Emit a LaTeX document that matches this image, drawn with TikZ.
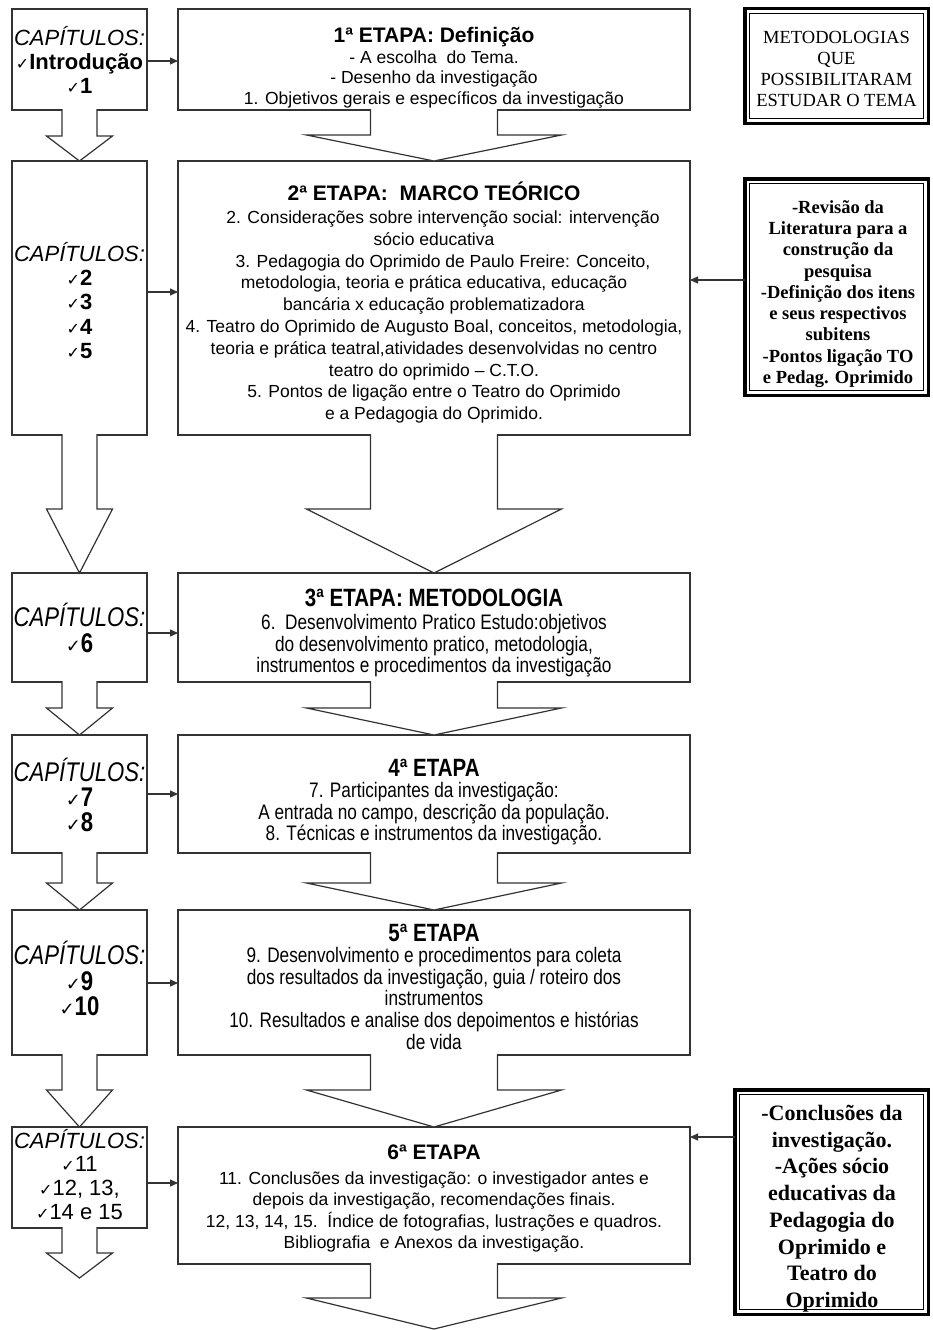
\documentclass[tikz,border=0pt]{standalone}
\usepackage{fontspec}
\setmainfont{Liberation Sans}
\newfontfamily\narrowsans[FakeStretch=0.82]{Liberation Sans}
\newfontfamily\serifface{Liberation Serif}
\newfontfamily\symface{DejaVu Sans}
\usetikzlibrary{arrows.meta,calc}
\definecolor{linecol}{gray}{0.2}

% helpers
\newcommand\fs[2]{\fontsize{#1pt}{#2pt}\selectfont}
\newcommand\topstrut{\rule{0pt}{26pt}}
\newcommand\ck[1][16]{{\symface\fontsize{#1pt}{#1pt}\selectfont ✓}}

% hollow block arrow hanging below a box: source, tip, shaft half width, head half width, head length
\newcommand\blockarrow[5]{%
  \path[blockarr] let \p1=(#1.south), \p2=(#2) in
    ({\x1-#3},{\y1+0.8pt}) -- ({\x1-#3},{\y2+#5}) -- ({\x2-#4},{\y2+#5})
    -- (\x2,\y2) -- ({\x2+#4},{\y2+#5}) -- ({\x1+#3},{\y2+#5}) -- ({\x1+#3},{\y1+0.8pt});
}

\tikzset{
  frame/.style={draw=linecol, line width=1.2pt, fill=white, inner sep=0pt, outer sep=0pt},
  chapbox/.style={frame, minimum width=135pt},
  stagebox/.style={frame, minimum width=512pt},
  notebox/.style={draw=black, line width=3.5pt, fill=white, inner sep=0pt, outer sep=0pt},
  innerline/.style={draw=black, line width=1.2pt},
  txt/.style={anchor=north, align=center, inner sep=0pt, text=black},
  link/.style={draw=linecol, line width=1.2pt, -{Triangle[length=8pt,width=7pt]}},
  blockarr/.style={fill=white, draw=linecol, line width=1.2pt, line join=miter},
  chapfont/.style={font=\fs{22}{24}},
  narrowchap/.style={font=\narrowsans\fs{27}{26}},
  narrowstage/.style={font=\narrowsans\fs{21}{21.5}}
}

\begin{document}
\begin{tikzpicture}[x=1pt,y=-1pt]
\fill[white] (0,0) rectangle (933,1330);
\useasboundingbox (0,0) rectangle (933,1330);

% chapter column
\node[chapbox, minimum height=101pt] (c1) at (79.5,59.5) {};
\node[chapbox, minimum height=274pt] (c2) at (79.5,298) {};
\node[chapbox, minimum height=109pt] (c3) at (79.5,627.5) {};
\node[chapbox, minimum height=118pt] (c4) at (79.5,794) {};
\node[chapbox, minimum height=145pt] (c5) at (79.5,982.5) {};
\node[chapbox, minimum height=101pt] (c6) at (79.5,1177.5) {};

% stage column
\node[stagebox, minimum height=101pt] (e1) at (434,59.5) {};
\node[stagebox, minimum height=274pt] (e2) at (434,298) {};
\node[stagebox, minimum height=109pt] (e3) at (434,627.5) {};
\node[stagebox, minimum height=118pt] (e4) at (434,794) {};
\node[stagebox, minimum height=145pt] (e5) at (434,982.5) {};
\node[stagebox, minimum height=137pt] (e6) at (434,1195.5) {};

% framed notes on the right
\node[notebox, minimum width=183.5pt, minimum height=114.5pt] (r1) at (836.5,66) {};
\node[notebox, minimum width=183.5pt, minimum height=216.5pt] (r2) at (836.5,287) {};
\node[notebox, minimum width=193.5pt, minimum height=224.5pt] (r3) at (831.5,1202) {};
\foreach \r in {r1,r2,r3}
  \draw[innerline] ($(\r.north west)+(5,5)$) rectangle ($(\r.south east)+(-5,-5)$);

% free ends of the last block arrows
\coordinate (c6end) at (79.5,1278);
\coordinate (e6end) at (434,1329);

% block arrows between the rows
\blockarrow{c1}{c2.north}{17.5pt}{33pt}{25pt}
\blockarrow{e1}{e2.north}{63.5pt}{127.5pt}{26pt}
\blockarrow{c2}{c3.north}{17.5pt}{33pt}{64pt}
\blockarrow{e2}{e3.north}{63.5pt}{127.5pt}{64pt}
\blockarrow{c3}{c4.north}{17.5pt}{33pt}{27pt}
\blockarrow{e3}{e4.north}{63.5pt}{127.5pt}{27pt}
\blockarrow{c4}{c5.north}{17.5pt}{33pt}{27pt}
\blockarrow{e4}{e5.north}{63.5pt}{127.5pt}{27pt}
\blockarrow{c5}{c6.north}{17.5pt}{33pt}{37pt}
\blockarrow{e5}{e6.north}{63.5pt}{127.5pt}{37pt}
\blockarrow{c6}{c6end}{17.5pt}{33pt}{25pt}
\blockarrow{e6}{e6end}{63.5pt}{127.5pt}{31pt}

% small connectors
\draw[link] (c1.east |- 0,61) -- (e1.west |- 0,61);
\draw[link] (c2.east |- 0,292) -- (e2.west |- 0,292);
\draw[link] (c3.east |- 0,633) -- (e3.west |- 0,633);
\draw[link] (c4.east |- 0,794) -- (e4.west |- 0,794);
\draw[link] (c5.east |- 0,983) -- (e5.west |- 0,983);
\draw[link] (c6.east |- 0,1183) -- (e6.west |- 0,1183);
\draw[link] (r2.west |- 0,280) -- (e2.east |- 0,280);
\draw[link] (r3.west |- 0,1137) -- (e6.east |- 0,1137);

% chapter texts
\node[txt, chapfont] (c1t) at (79.5,18.9)
  {\topstrut{\itshape CAPÍTULOS:}\\\ck{\bfseries Introdução}\\\ck{\bfseries 1}};
\node[txt, font=\fs{22}{24.3}] (c2t) at (79.5,234.9)
  {\topstrut{\itshape CAPÍTULOS:}\\\ck{\bfseries 2}\\\ck{\bfseries 3}\\\ck{\bfseries 4}\\\ck{\bfseries 5}};
\node[txt, narrowchap] (c3t) at (79.5,600.3)
  {\topstrut{\itshape CAPÍTULOS:}\\\ck[18]{\bfseries 6}};
\node[txt, font=\narrowsans\fs{27}{25}] (c4t) at (79.5,755.3)
  {\topstrut{\itshape CAPÍTULOS:}\\\ck[18]{\bfseries 7}\\\ck[18]{\bfseries 8}};
\node[txt, font=\narrowsans\fs{27}{25.5}] (c5t) at (79.5,938.3)
  {\topstrut{\itshape CAPÍTULOS:}\\\ck[18]{\bfseries 9}\\\ck[18]{\bfseries 10}};
\node[txt, font=\fs{22}{23.7}] (c6t) at (79.5,1121.9)
  {\topstrut{\itshape CAPÍTULOS:}\\\ck 11\\\ck 12, 13,\\\ck 14 e 15};

% stage texts
\node[txt, font=\fs{17.5}{20.5}] (e1t) at (434,16.5)
  {\topstrut{\fs{21}{21}\bfseries 1ª ETAPA: Definição}\\
   - A escolha\ \ do Tema.\\
   - Desenho da investigação\\
   1. Objetivos gerais e específicos da investigação};
\node[txt, font=\fs{17.5}{21.8}] (e2t) at (434,174.5)
  {\topstrut{\fs{21}{21}\bfseries 2ª ETAPA:\ \ MARCO TEÓRICO}\\[1pt]
   \hspace*{18pt}2. Considerações sobre intervenção social: intervenção\\
   sócio educativa\\
   \hspace*{18pt}3. Pedagogia do Oprimido de Paulo Freire: Conceito,\\
   metodologia, teoria e prática educativa, educação\\
   bancária x educação problematizadora\\
   4. Teatro do Oprimido de Augusto Boal, conceitos, metodologia,\\
   teoria e prática teatral,atividades desenvolvidas no centro\\
   teatro do oprimido – C.T.O.\\
   5. Pontos de ligação entre o Teatro do Oprimido\\
   e a Pedagogia do Oprimido.};
\node[txt, narrowstage] (e3t) at (434,580.6)
  {\topstrut{\fs{25}{25}\bfseries 3ª ETAPA: METODOLOGIA}\\[1.4pt]
   6.\ \ Desenvolvimento Pratico Estudo:objetivos\\
   do desenvolvimento pratico, metodologia,\\
   instrumentos e procedimentos da investigação};
\node[txt, narrowstage] (e4t) at (434,750.6)
  {\topstrut{\fs{25}{25}\bfseries 4ª ETAPA}\\[-0.6pt]
   7. Participantes da investigação:\\
   A entrada no campo, descrição da população.\\
   8. Técnicas e instrumentos da investigação.};
\node[txt, font=\narrowsans\fs{21}{21.6}] (e5t) at (434,915.6)
  {\topstrut{\fs{25}{25}\bfseries 5ª ETAPA}\\[-0.7pt]
   9. Desenvolvimento e procedimentos para coleta\\
   dos resultados da investigação, guia / roteiro dos\\
   instrumentos\\
   10. Resultados e analise dos depoimentos e histórias\\
   de vida};
\node[txt, font=\fs{17.5}{21.3}] (e6t) at (434,1133.5)
  {\topstrut{\fs{21}{21}\bfseries 6ª ETAPA}\\[3.5pt]
   11. Conclusões da investigação: o investigador antes e\\
   depois da investigação, recomendações finais.\\
   12, 13, 14, 15.\ \ Índice de fotografias, lustrações e quadros.\\
   Bibliografia\ \ e Anexos da investigação.};

% note texts
\node[txt, font=\serifface\fs{18.5}{21}] (r1t) at (836.5,17)
  {\topstrut METODOLOGIAS\\QUE\\POSSIBILITARAM\\ESTUDAR O TEMA};
\node[txt, font=\serifface\bfseries\fs{18.5}{21.25}] (r2t) at (838,187.2)
  {\topstrut -Revisão da\\Literatura para a\\construção da\\pesquisa\\
   -Definição dos itens\\e seus respectivos\\subitens\\
   -Pontos ligação TO\\e Pedag. Oprimido};
\node[txt, font=\serifface\bfseries\fs{22}{26.7}] (r3t) at (832,1094.3)
  {\topstrut -Conclusões da\\investigação.\\-Ações sócio\\educativas da\\
   Pedagogia do\\Oprimido e\\Teatro do\\Oprimido};
\end{tikzpicture}
\end{document}
